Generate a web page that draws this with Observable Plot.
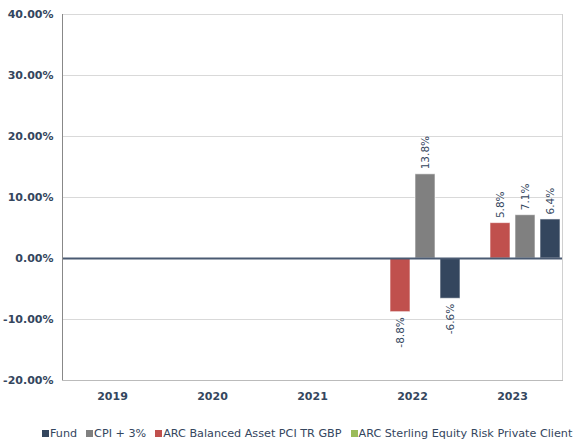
<!DOCTYPE html>
<html>
<head>
<meta charset="utf-8">
<script src="https://cdn.jsdelivr.net/npm/d3@7"></script>
<script src="https://cdn.jsdelivr.net/npm/@observablehq/plot@0.6"></script>
<style>
  body { margin: 0; background: #fff; font-family: "DejaVu Sans", Verdana, sans-serif; overflow: hidden; }
  #legend { height: 30px; display: flex; justify-content: flex-start; align-items: center; white-space: nowrap; font-size: 11.2px; color: #34465e; padding-left: 42px; }
  #legend .item { display: flex; align-items: center; margin-right: 9px; }
  #legend .sw { width: 7px; height: 7px; margin-right: 1px; display: inline-block; }
</style>
</head>
<body>
<div id="chart"></div>
<div id="legend"></div>
<script>
const years = ["2019", "2020", "2021", "2022", "2023"];
const seriesOrder = ["ARC Sterling Equity Risk Private Client", "ARC Balanced Asset PCI TR GBP", "CPI + 3%", "Fund"];
const legendOrder = ["Fund", "CPI + 3%", "ARC Balanced Asset PCI TR GBP", "ARC Sterling Equity Risk Private Client"];
const seriesColors = ["#9bbb59", "#c0504d", "#808080", "#34465e"];
const fundValues = [null, null, null, -6.6, 6.4];
const cpiValues = [null, null, null, 13.8, 7.1];
const arcBalancedValues = [null, null, null, -8.8, 5.8];
const arcSterlingValues = [null, null, null, null, null];
const yTicks = [-20, -10, 0, 10, 20, 30, 40];

const valuesBySeries = {
  "Fund": fundValues,
  "CPI + 3%": cpiValues,
  "ARC Balanced Asset PCI TR GBP": arcBalancedValues,
  "ARC Sterling Equity Risk Private Client": arcSterlingValues
};
const data = [];
for (const s of seriesOrder) {
  valuesBySeries[s].forEach((v, i) => {
    if (v != null) data.push({year: years[i], series: s, value: v});
  });
}
const pos = data.filter(d => d.value >= 0);
const neg = data.filter(d => d.value < 0);
const fmt = d => d.value.toFixed(1) + "%";

const chart = Plot.plot({
  width: 574,
  height: 418,
  marginLeft: 62,
  marginRight: 12,
  marginTop: 14,
  marginBottom: 38,
  style: {fontFamily: "'DejaVu Sans', Verdana, sans-serif", color: "#34465e"},
  fx: {domain: years, padding: 0, label: null},
  x: {domain: seriesOrder, paddingInner: 0.2, paddingOuter: 0.1, axis: null},
  y: {domain: [-20, 40], label: null},
  color: {domain: seriesOrder, range: seriesColors},
  marks: [
    Plot.gridY(yTicks, {stroke: "#d9d9d9", strokeOpacity: 1}),
    Plot.frame({anchor: "right", stroke: "#d0d0d0", facet: "super"}),
    Plot.axisY(yTicks, {tickSize: 0, tickPadding: 9, tickFormat: d => d.toFixed(2) + "%", fontWeight: "bold", fontSize: 11, fill: "#34465e"}),
    Plot.axisFx({anchor: "bottom", tickSize: 0, tickPadding: 12, fontWeight: "bold", fontSize: 11, fill: "#34465e", label: null}),
    Plot.barY(data, {fx: "year", x: "series", y: "value", fill: "series", stroke: "white", strokeOpacity: 0.6, strokeWidth: 1}),
    Plot.ruleY(years, {fx: d => d, y: () => 0, stroke: "#4a5a72", strokeWidth: 2}),
    Plot.frame({anchor: "left", stroke: "#888", facet: "super"}),
    Plot.frame({anchor: "bottom", stroke: "#bbb", facet: "super"}),
    Plot.text(pos, {fx: "year", x: "series", y: "value", text: fmt, rotate: -90, textAnchor: "start", dy: -5, fontSize: 10.5, fill: "#34465e"}),
    Plot.text(neg, {fx: "year", x: "series", y: "value", text: fmt, rotate: -90, textAnchor: "end", dy: 5, fontSize: 10.5, fill: "#34465e"})
  ]
});
document.getElementById("chart").appendChild(chart);

const legend = document.getElementById("legend");
for (const s of legendOrder) {
  const item = document.createElement("span");
  item.className = "item";
  const sw = document.createElement("span");
  sw.className = "sw";
  sw.style.background = seriesColors[seriesOrder.indexOf(s)];
  item.appendChild(sw);
  item.appendChild(document.createTextNode(s));
  legend.appendChild(item);
}
</script>
</body>
</html>
